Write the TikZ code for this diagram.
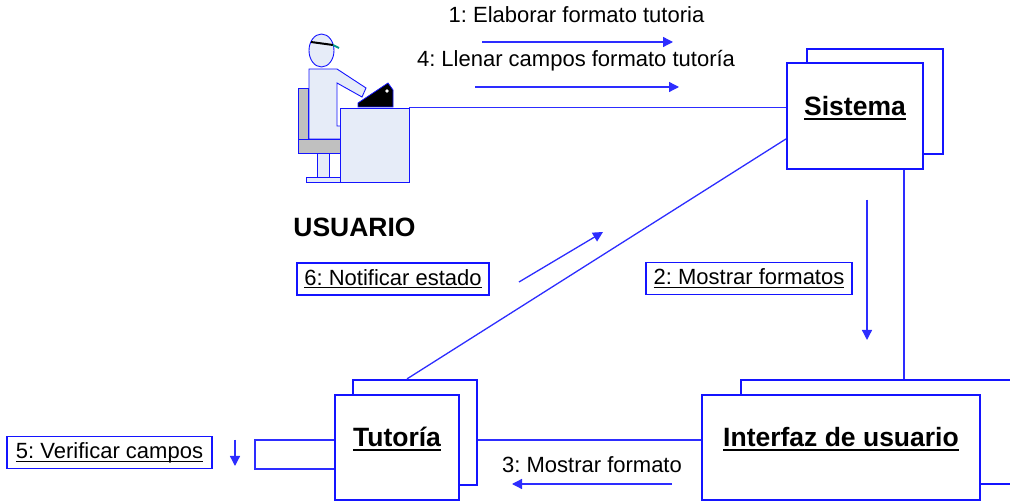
\documentclass[tikz,border=0pt]{standalone}
\usepackage{fontspec}
\setmainfont{Liberation Sans}
\usetikzlibrary{arrows.meta,calc}
\frenchspacing

\definecolor{umlblue}{RGB}{20,20,255}
\definecolor{linkblue}{RGB}{45,45,255}
\definecolor{figfill}{RGB}{230,236,248}
\definecolor{chairgrey}{RGB}{192,192,192}
\definecolor{visorgreen}{RGB}{0,150,140}

% underlined text: #1 depth of the rule's bottom, #2 thickness, #3 text
\newsavebox{\ulsavebox}
\newcommand{\ulinetext}[3]{\sbox{\ulsavebox}{#3}%
  \rlap{\rule[-#1]{\wd\ulsavebox}{#2}}\usebox{\ulsavebox}}
\newcommand{\lbltext}[1]{\ulinetext{3pt}{1.4pt}{#1}}
\newcommand{\titletext}[1]{\ulinetext{4.3pt}{2.6pt}{#1}}

\tikzset{
  obj/.style={draw=umlblue, line width=2.2pt, fill=white, inner sep=0pt},
  title/.style={font=\fontsize{26.5}{30}\selectfont\bfseries, inner sep=0pt, anchor=base},
  lbl/.style={draw=umlblue, line width=1.6pt, fill=white,
              font=\fontsize{22}{26}\selectfont, minimum height=32pt,
              inner sep=0pt, text height=16pt, text depth=3pt},
  msgtext/.style={font=\fontsize{22}{26}\selectfont, inner sep=0pt, anchor=base},
  link/.style={draw=linkblue, line width=1.3pt},
  msg/.style={draw=linkblue, fill=linkblue, line width=1.3pt,
              -{Triangle[length=10pt,width=10pt]}},
  fig/.style={draw=umlblue, line width=0.9pt, fill=figfill},
  figgrey/.style={draw=umlblue, line width=0.9pt, fill=chairgrey},
}

\begin{document}
\begin{tikzpicture}[x=1pt, y=-1pt]
\useasboundingbox (0,0) rectangle (1010,502);
\clip (0,0) rectangle (1010,502);

% ---- the user at the desk ----
\draw[figgrey] (298,88) rectangle (308,139);          % chair back
\draw[figgrey] (298,139) rectangle (341,153);         % seat
\draw[fig] (317,153) rectangle (329,177);             % chair leg
\draw[fig] (306,177) rectangle (341,182);             % chair foot
\draw[fig] (309,69) -- (337,69) -- (366,88) -- (362,97) -- (337,83)
           -- (337,126) -- (342,126) -- (342,139) -- (309,139) -- cycle; % body and arm
\draw[fig] (321.5,50.5) ellipse [x radius=12.5, y radius=16.5];          % head
\draw[black, line width=2pt] (311,42) -- (333,45);                     % visor
\draw[visorgreen, line width=2pt] (333,45) -- (339,48);
\node[fig, minimum width=69pt, minimum height=74pt, inner sep=0pt] (desk) at (374.5,145) {};
\draw[umlblue, line width=0.8pt, fill=black]
  (358,107) -- (358,103) -- (388,83) -- (393,90) -- (393,107) -- cycle;  % laptop
\fill[white] (387,91) circle [radius=1.8];
\node[title] (actor) at (354.5,237) {USUARIO};

% ---- objects ----
\node[obj, minimum width=136pt, minimum height=105pt] (sisb) at (875,101.5) {};
\node[obj, minimum width=136pt, minimum height=106pt] (sis) at (855,116) {};
\node[title] (sist) at (855,116) {\titletext{Sistema}};

\node[obj, minimum width=124pt, minimum height=105pt] (tutb) at (415,432.5) {};
\node[obj, minimum width=124pt, minimum height=105pt] (tut) at (397,447.5) {};
\node[title] (tutt) at (397,447) {\titletext{Tutoría}};

\node[obj, minimum width=278pt, minimum height=104pt] (ifzb) at (880,432) {};
\node[obj, minimum width=278pt, minimum height=105pt] (ifz) at (841,447.5) {};
\node[title] (ifzt) at (841,447) {\titletext{Interfaz de usuario}};

% ---- links ----
\draw[link] (desk.north east) -- (desk.north east -| sis.west);
\draw[link] ([xshift=-20pt]sis.south east) -- ([xshift=-20pt]sis.south east |- ifzb.north);
\draw[link] ([xshift=-8pt]tutb.north) -- ([yshift=-23pt]sis.west);
\draw[link] ([yshift=7.5pt]ifz.west) -- ([yshift=7.5pt]ifz.west -| tutb.east);
\coordinate (loopcorner) at (255,469);
\draw[link] ([yshift=7.5pt]tut.west) -| (loopcorner) -- (loopcorner -| tut.west);

% ---- messages ----
\node[msgtext] (t1) at (576.5,23) {1: Elaborar formato tutoria};
\coordinate (m1a) at (482,42);  \coordinate (m1b) at (673,42);
\draw[msg] (m1a) -- (m1b);

\node[msgtext] (t4) at (576,67) {4: Llenar campos formato tutoría};
\coordinate (m4a) at (475,87);  \coordinate (m4b) at (679,87);
\draw[msg] (m4a) -- (m4b);

\node[lbl, minimum width=206pt] (t2) at (749,278.5) {\lbltext{2: Mostrar formatos}};
\coordinate (m2a) at (867,200); \coordinate (m2b) at (867,340);
\draw[msg] (m2a) -- (m2b);

\node[msgtext] (t3) at (592,473) {3: Mostrar formato};
\coordinate (m3a) at (672,484); \coordinate (m3b) at (512,484);
\draw[msg] (m3a) -- (m3b);

\node[lbl, minimum width=205pt] (t5) at (109.5,452.5) {\lbltext{5: Verificar campos}};
\coordinate (m5a) at (235,440); \coordinate (m5b) at (235,466);
\draw[msg] (m5a) -- (m5b);

\node[lbl, minimum width=192pt] (t6) at (393,279) {\lbltext{6: Notificar estado}};
\coordinate (m6a) at (519,282); \coordinate (m6b) at (603,232);
\draw[msg] (m6a) -- (m6b);
\end{tikzpicture}
\end{document}
